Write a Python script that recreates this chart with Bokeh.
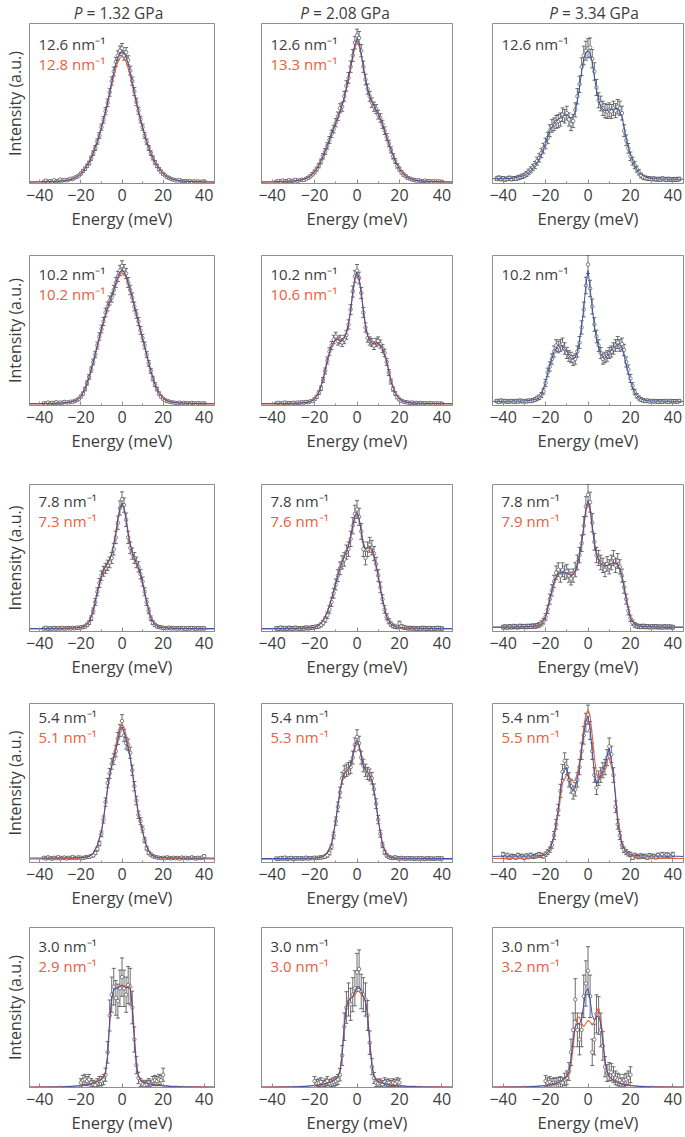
import numpy as np
from bokeh.plotting import figure
from bokeh.layouts import column, row
from bokeh.models import Range1d, FixedTicker, Label, ColumnDataSource, Whisker, TeeHead
from bokeh.embed import file_html
from bokeh.resources import INLINE

# ---------------- data ----------------
PRESSURES = ["1.32", "2.08", "3.34"]
Q_BLACK = [["12.6", "12.6", "12.6"], ["10.2", "10.2", "10.2"], ["7.8", "7.8", "7.8"],
           ["5.4", "5.4", "5.4"], ["3.0", "3.0", "3.0"]]
Q_RED = [["12.8", "13.3", None], ["10.2", "10.6", None], ["7.3", "7.6", "7.9"],
         ["5.1", "5.3", "5.5"], ["2.9", "3.0", "3.2"]]
TICKS = [-40, -20, 0, 20, 40]
TICK_LABELS = ["\u221240", "\u221220", "0", "20", "40"]
MINOR_TICKS = [-30, -10, 10, 30]

# energy of first data point (meV), data step 1 meV
DATA_START = [[-38, -38, -43], [-38, -38, -43], [-38, -38, -40], [-38, -38, -40], [-20, -20, -20]]
# error-bar half-length at the peak (fraction of frame height)
ERR_PEAK = [[0.03, 0.04, 0.06], [0.035, 0.04, 0.06], [0.05, 0.06, 0.07],
            [0.04, 0.045, 0.06], [0.12, 0.12, 0.15]]

FIT_E = [-45, -40, -35, -30, -27, -24, -22, -20, -18, -16, -14, -12, -10, -9, -8, -7, -6, -5, -4, -3, -2, -1,
         0, 1, 2, 3, 4, 5, 6, 7, 8, 9, 10, 12, 14, 16, 18, 20, 22, 24, 27, 30, 35, 40, 45]

# ---- row 1 (12.6 nm^-1) ----
I_1_1 = [0.012, 0.018, 0.010, 0.015, 0.012, 0.020, 0.014, 0.016, 0.025, 0.018, 0.022, 0.020,
         0.024, 0.030, 0.028, 0.036, 0.042, 0.050, 0.062,
         0.078, 0.092, 0.110, 0.128, 0.158, 0.190, 0.222, 0.262, 0.300,
         0.352, 0.398, 0.452, 0.505, 0.570, 0.640, 0.700, 0.760, 0.800, 0.830,
         0.845,
         0.800, 0.820, 0.770, 0.705, 0.640, 0.575, 0.510, 0.455, 0.400, 0.352,
         0.300, 0.262, 0.222, 0.190, 0.160, 0.132, 0.110, 0.090, 0.075,
         0.060, 0.050, 0.040, 0.034, 0.028, 0.024, 0.020,
         0.018, 0.022, 0.015, 0.014, 0.016, 0.012, 0.015, 0.010, 0.014, 0.012, 0.013, 0.011, 0.012, 0.014]
I_1_2 = [0.012, 0.015, 0.011, 0.018, 0.014, 0.016, 0.020, 0.015, 0.018, 0.022, 0.017, 0.020,
         0.024, 0.022, 0.030, 0.036, 0.045, 0.058, 0.072,
         0.090, 0.112, 0.138, 0.170, 0.200, 0.235, 0.272, 0.310, 0.340,
         0.380, 0.420, 0.470, 0.480, 0.545, 0.610, 0.660, 0.730, 0.800, 0.880,
         0.925,
         0.910, 0.830, 0.730, 0.650, 0.590, 0.545, 0.505, 0.480, 0.465, 0.430,
         0.410, 0.370, 0.330, 0.290, 0.250, 0.210, 0.170, 0.140, 0.110,
         0.090, 0.070, 0.055, 0.045, 0.035, 0.030, 0.025,
         0.022, 0.018, 0.020, 0.016, 0.015, 0.018, 0.013, 0.015, 0.012, 0.014, 0.011, 0.013, 0.012, 0.010]
I_1_3 = [0.030, 0.035, 0.028, 0.032, 0.026, 0.030, 0.034, 0.028, 0.032, 0.030, 0.036, 0.040, 0.045,
         0.050, 0.060, 0.072, 0.085, 0.100, 0.115, 0.140, 0.160, 0.190, 0.220,
         0.250, 0.285, 0.330, 0.360, 0.370, 0.385, 0.390, 0.400, 0.430, 0.420,
         0.440, 0.400, 0.370, 0.390, 0.460, 0.545, 0.620, 0.730, 0.800, 0.830,
         0.845,
         0.850, 0.780, 0.700, 0.600, 0.520, 0.500, 0.470, 0.455, 0.450, 0.460,
         0.450, 0.470, 0.455, 0.480, 0.470, 0.440, 0.330, 0.270, 0.220, 0.170,
         0.140, 0.115, 0.090, 0.070, 0.050, 0.040, 0.035, 0.032, 0.030, 0.028,
         0.030, 0.026, 0.028, 0.025, 0.030, 0.027, 0.025, 0.028, 0.026, 0.024, 0.027, 0.025, 0.028]
FB_1_1 = [0.01, 0.011, 0.012, 0.015, 0.019, 0.028, 0.04, 0.06, 0.092, 0.13, 0.19, 0.262, 0.352,
          0.40, 0.452, 0.51, 0.57, 0.635, 0.695, 0.75, 0.79, 0.815, 0.825, 0.815, 0.79, 0.75, 0.695,
          0.635, 0.57, 0.51, 0.452, 0.40,
          0.352, 0.262, 0.19, 0.13, 0.092, 0.06, 0.04, 0.028, 0.019, 0.015, 0.012, 0.011, 0.01]
FR_1_1 = [0.008, 0.009, 0.011, 0.015, 0.02, 0.03, 0.043, 0.063, 0.095, 0.135, 0.195, 0.265, 0.35,
          0.395, 0.445, 0.5, 0.555, 0.615, 0.67, 0.72, 0.76, 0.785, 0.795, 0.785, 0.76, 0.72, 0.67,
          0.615, 0.555, 0.5, 0.445, 0.395,
          0.35, 0.265, 0.195, 0.135, 0.095, 0.063, 0.043, 0.03, 0.02, 0.015, 0.011, 0.009, 0.008]
FB_1_2 = [0.01, 0.011, 0.013, 0.016, 0.02, 0.03, 0.045, 0.072, 0.112, 0.17, 0.235, 0.31, 0.38,
          0.415, 0.45, 0.49, 0.54, 0.6, 0.66, 0.73, 0.8, 0.87, 0.905, 0.88, 0.81, 0.73, 0.655,
          0.59, 0.545, 0.51, 0.485, 0.46,
          0.435, 0.37, 0.29, 0.21, 0.14, 0.09, 0.055, 0.035, 0.022, 0.016, 0.013, 0.011, 0.01]
FR_1_2 = [0.008, 0.009, 0.011, 0.015, 0.02, 0.032, 0.048, 0.075, 0.115, 0.172, 0.24, 0.312, 0.378,
          0.412, 0.448, 0.487, 0.535, 0.59, 0.65, 0.72, 0.79, 0.85, 0.88, 0.86, 0.8, 0.725, 0.65,
          0.59, 0.545, 0.51, 0.485, 0.46,
          0.435, 0.372, 0.295, 0.215, 0.145, 0.095, 0.06, 0.038, 0.022, 0.015, 0.011, 0.009, 0.008]
FB_1_3 = [0.03, 0.03, 0.033, 0.05, 0.08, 0.13, 0.18, 0.25, 0.33, 0.375, 0.40, 0.42, 0.43,
          0.42, 0.41, 0.42, 0.45, 0.52, 0.6, 0.7, 0.78, 0.82, 0.83, 0.815, 0.76, 0.67, 0.585,
          0.52, 0.485, 0.465, 0.455, 0.455,
          0.46, 0.465, 0.47, 0.42, 0.28, 0.18, 0.11, 0.068, 0.04, 0.03, 0.028, 0.027, 0.027]

# ---- row 2 (10.2 nm^-1) ----
I_2_1 = [0.015, 0.012, 0.020, 0.014, 0.018, 0.016, 0.022, 0.015, 0.020, 0.018, 0.024, 0.021,
         0.020, 0.026, 0.024, 0.030, 0.036, 0.045, 0.060,
         0.080, 0.110, 0.150, 0.190, 0.240, 0.290, 0.340, 0.400, 0.460,
         0.510, 0.560, 0.620, 0.660, 0.700, 0.720, 0.770, 0.820, 0.860, 0.900,
         0.930,
         0.905, 0.880, 0.820, 0.770, 0.720, 0.660, 0.610, 0.560, 0.500, 0.450,
         0.400, 0.340, 0.280, 0.230, 0.180, 0.140, 0.110, 0.080, 0.060,
         0.045, 0.035, 0.030, 0.026, 0.022, 0.020, 0.018,
         0.016, 0.020, 0.015, 0.018, 0.014, 0.016, 0.013, 0.017, 0.015, 0.012, 0.016, 0.014, 0.013, 0.015]
I_2_2 = [0.014, 0.018, 0.012, 0.016, 0.020, 0.015, 0.017, 0.014, 0.019, 0.016, 0.020, 0.018,
         0.022, 0.019, 0.024, 0.022, 0.028, 0.030, 0.042,
         0.058, 0.085, 0.115, 0.170, 0.230, 0.300, 0.360, 0.400, 0.440,
         0.460, 0.430, 0.440, 0.420, 0.440, 0.470, 0.540, 0.640, 0.760, 0.860,
         0.900,
         0.850, 0.750, 0.620, 0.520, 0.450, 0.430, 0.420, 0.400, 0.420, 0.430,
         0.410, 0.380, 0.350, 0.290, 0.220, 0.160, 0.110, 0.080, 0.055,
         0.040, 0.032, 0.025, 0.022, 0.020, 0.018, 0.020,
         0.016, 0.018, 0.015, 0.017, 0.014, 0.016, 0.013, 0.015, 0.014, 0.012, 0.015, 0.013, 0.014, 0.012]
I_2_3 = [0.030, 0.025, 0.032, 0.028, 0.030, 0.026, 0.028, 0.030, 0.025, 0.030, 0.027, 0.032, 0.028,
         0.030, 0.028, 0.032, 0.030, 0.035, 0.040, 0.048, 0.055, 0.070, 0.095,
         0.150, 0.220, 0.260, 0.310, 0.360, 0.400, 0.390, 0.400, 0.410, 0.380,
         0.350, 0.330, 0.320, 0.300, 0.310, 0.360, 0.420, 0.520, 0.640, 0.800,
         0.940,
         0.780, 0.660, 0.540, 0.460, 0.400, 0.350, 0.310, 0.320, 0.330, 0.350,
         0.360, 0.380, 0.400, 0.420, 0.400, 0.410, 0.370, 0.290, 0.240, 0.180,
         0.130, 0.090, 0.065, 0.050, 0.040, 0.035, 0.030, 0.032, 0.028, 0.030,
         0.027, 0.030, 0.025, 0.029, 0.026, 0.030, 0.028, 0.025, 0.030, 0.027, 0.029, 0.026, 0.030]
FB_2_1 = [0.012, 0.013, 0.014, 0.016, 0.019, 0.026, 0.034, 0.058, 0.11, 0.19, 0.29, 0.40, 0.51,
          0.56, 0.61, 0.655, 0.695, 0.73, 0.77, 0.82, 0.86, 0.89, 0.905, 0.895, 0.865, 0.82, 0.77,
          0.72, 0.665, 0.61, 0.555, 0.50,
          0.45, 0.34, 0.23, 0.14, 0.08, 0.046, 0.03, 0.022, 0.018, 0.016, 0.014, 0.013, 0.012]
FR_2_1 = [0.01, 0.011, 0.013, 0.016, 0.02, 0.028, 0.038, 0.062, 0.112, 0.19, 0.288, 0.395, 0.5,
          0.55, 0.6, 0.645, 0.69, 0.73, 0.77, 0.81, 0.85, 0.875, 0.885, 0.875, 0.85, 0.81, 0.765,
          0.715, 0.66, 0.605, 0.55, 0.495,
          0.445, 0.338, 0.232, 0.145, 0.085, 0.05, 0.033, 0.024, 0.019, 0.016, 0.013, 0.011, 0.01]
FB_2_2 = [0.012, 0.013, 0.014, 0.015, 0.017, 0.02, 0.026, 0.04, 0.085, 0.17, 0.30, 0.40, 0.445,
          0.44, 0.43, 0.43, 0.45, 0.48, 0.54, 0.63, 0.75, 0.85, 0.89, 0.85, 0.75, 0.63, 0.53,
          0.465, 0.43, 0.415, 0.41, 0.415,
          0.42, 0.38, 0.29, 0.16, 0.08, 0.042, 0.026, 0.02, 0.017, 0.015, 0.014, 0.013, 0.012]
FR_2_2 = [0.01, 0.011, 0.012, 0.014, 0.016, 0.02, 0.028, 0.045, 0.09, 0.175, 0.295, 0.39, 0.44,
          0.445, 0.44, 0.44, 0.455, 0.49, 0.55, 0.64, 0.75, 0.84, 0.87, 0.84, 0.75, 0.64, 0.54,
          0.47, 0.435, 0.42, 0.415, 0.42,
          0.42, 0.385, 0.3, 0.17, 0.088, 0.045, 0.028, 0.02, 0.016, 0.014, 0.012, 0.011, 0.01]
FB_2_3 = [0.028, 0.028, 0.029, 0.03, 0.034, 0.045, 0.065, 0.16, 0.27, 0.36, 0.395, 0.40, 0.36,
          0.33, 0.315, 0.31, 0.32, 0.36, 0.43, 0.53, 0.65, 0.80, 0.90, 0.78, 0.65, 0.53, 0.45,
          0.39, 0.345, 0.32, 0.315, 0.33,
          0.35, 0.385, 0.41, 0.39, 0.27, 0.16, 0.085, 0.05, 0.033, 0.03, 0.029, 0.028, 0.028]

# ---- row 3 (7.8 nm^-1) ----
I_3_1 = [0.020, 0.025, 0.018, 0.022, 0.020, 0.024, 0.019, 0.023, 0.021, 0.025, 0.020, 0.022,
         0.024, 0.021, 0.025, 0.022, 0.026, 0.024, 0.028,
         0.030, 0.034, 0.045, 0.060, 0.090, 0.140, 0.200, 0.270, 0.330,
         0.380, 0.410, 0.430, 0.450, 0.470, 0.500, 0.560, 0.640, 0.740, 0.840,
         0.900,
         0.860, 0.760, 0.640, 0.570, 0.530, 0.500, 0.470, 0.440, 0.390, 0.340,
         0.270, 0.200, 0.140, 0.090, 0.060, 0.045, 0.035, 0.030, 0.028,
         0.025, 0.024, 0.022, 0.026, 0.021, 0.024, 0.022,
         0.020, 0.024, 0.021, 0.023, 0.019, 0.022, 0.020, 0.024, 0.021, 0.019, 0.023, 0.020, 0.022, 0.021]
I_3_2 = [0.022, 0.018, 0.025, 0.020, 0.023, 0.019, 0.024, 0.021, 0.020, 0.025, 0.022, 0.019,
         0.023, 0.021, 0.026, 0.022, 0.025, 0.028, 0.030,
         0.032, 0.036, 0.045, 0.060, 0.080, 0.110, 0.150, 0.200, 0.260,
         0.320, 0.380, 0.430, 0.470, 0.490, 0.540, 0.560, 0.630, 0.720, 0.800,
         0.830,
         0.780, 0.680, 0.560, 0.500, 0.560, 0.590, 0.570, 0.530, 0.460, 0.380,
         0.300, 0.220, 0.150, 0.100, 0.070, 0.050, 0.038, 0.032, 0.030,
         0.055, 0.035, 0.028, 0.025, 0.022, 0.024, 0.021,
         0.023, 0.020, 0.022, 0.019, 0.024, 0.021, 0.020, 0.023, 0.019, 0.022, 0.020, 0.024, 0.021, 0.020]
I_3_3 = [0.030, 0.032, 0.028, 0.034, 0.030, 0.035, 0.032, 0.030, 0.036, 0.033,
         0.035, 0.032, 0.036, 0.034, 0.038, 0.036, 0.040, 0.045, 0.055, 0.070,
         0.100, 0.150, 0.220, 0.280, 0.340, 0.400, 0.420, 0.380, 0.420, 0.400,
         0.410, 0.380, 0.360, 0.380, 0.420, 0.470, 0.520, 0.600, 0.720, 0.850,
         0.930,
         0.880, 0.740, 0.610, 0.520, 0.500, 0.470, 0.450, 0.420, 0.460, 0.440,
         0.470, 0.500, 0.450, 0.480, 0.440, 0.380, 0.300, 0.220, 0.140, 0.090,
         0.060, 0.045, 0.038, 0.035, 0.033, 0.036, 0.032, 0.034, 0.030, 0.033,
         0.031, 0.034, 0.030, 0.032, 0.029, 0.033, 0.030, 0.032, 0.031, 0.029]
FB_3_1 = [0.02, 0.02, 0.021, 0.022, 0.023, 0.024, 0.025, 0.027, 0.035, 0.06, 0.14, 0.27, 0.38,
          0.42, 0.445, 0.465, 0.49, 0.53, 0.59, 0.67, 0.76, 0.84, 0.875, 0.84, 0.76, 0.665, 0.59,
          0.535, 0.5, 0.47, 0.435, 0.39,
          0.335, 0.2, 0.09, 0.045, 0.03, 0.026, 0.024, 0.023, 0.022, 0.021, 0.021, 0.02, 0.02]
FR_3_1 = [0.018, 0.018, 0.019, 0.02, 0.021, 0.023, 0.025, 0.03, 0.04, 0.07, 0.15, 0.27, 0.37,
          0.41, 0.44, 0.46, 0.49, 0.535, 0.6, 0.68, 0.77, 0.84, 0.87, 0.84, 0.77, 0.68, 0.6,
          0.535, 0.49, 0.46, 0.43, 0.385,
          0.33, 0.205, 0.1, 0.05, 0.033, 0.027, 0.024, 0.022, 0.021, 0.02, 0.019, 0.018, 0.018]
FB_3_2 = [0.02, 0.02, 0.021, 0.022, 0.023, 0.024, 0.025, 0.027, 0.04, 0.07, 0.13, 0.22, 0.33,
          0.38, 0.43, 0.47, 0.51, 0.54, 0.58, 0.64, 0.72, 0.79, 0.81, 0.77, 0.68, 0.59, 0.56,
          0.57, 0.58, 0.565, 0.52, 0.455,
          0.38, 0.22, 0.1, 0.05, 0.032, 0.027, 0.025, 0.024, 0.023, 0.022, 0.021, 0.02, 0.02]
FR_3_2 = [0.018, 0.018, 0.019, 0.02, 0.021, 0.023, 0.025, 0.03, 0.043, 0.075, 0.135, 0.225, 0.33,
          0.385, 0.435, 0.48, 0.515, 0.55, 0.59, 0.65, 0.72, 0.78, 0.80, 0.765, 0.685, 0.605, 0.565,
          0.565, 0.57, 0.555, 0.51, 0.445,
          0.37, 0.215, 0.1, 0.05, 0.032, 0.026, 0.023, 0.022, 0.021, 0.02, 0.019, 0.018, 0.018]
FB_3_3 = [0.03, 0.03, 0.031, 0.033, 0.035, 0.038, 0.048, 0.1, 0.22, 0.34, 0.40, 0.40, 0.40,
          0.39, 0.38, 0.385, 0.41, 0.46, 0.52, 0.6, 0.72, 0.84, 0.89, 0.84, 0.72, 0.6, 0.525,
          0.49, 0.465, 0.45, 0.445, 0.45,
          0.455, 0.47, 0.46, 0.38, 0.22, 0.09, 0.045, 0.036, 0.034, 0.032, 0.031, 0.03, 0.03]
FR_3_3 = [0.028, 0.028, 0.029, 0.031, 0.034, 0.04, 0.052, 0.105, 0.22, 0.33, 0.39, 0.40, 0.395,
          0.39, 0.385, 0.39, 0.41, 0.455, 0.52, 0.6, 0.71, 0.82, 0.87, 0.82, 0.71, 0.605, 0.53,
          0.49, 0.465, 0.45, 0.445, 0.448,
          0.455, 0.465, 0.455, 0.38, 0.23, 0.1, 0.05, 0.037, 0.033, 0.031, 0.029, 0.028, 0.028]

# ---- row 4 (5.4 nm^-1) ----
I_4_1 = [0.030, 0.025, 0.032, 0.028, 0.024, 0.030, 0.027, 0.033, 0.026, 0.029, 0.031, 0.025,
         0.030, 0.028, 0.034, 0.027, 0.030, 0.032, 0.030,
         0.028, 0.032, 0.034, 0.036, 0.040, 0.045, 0.060, 0.085, 0.120,
         0.180, 0.270, 0.380, 0.500, 0.560, 0.620, 0.650, 0.700, 0.780, 0.830,
         0.890,
         0.800, 0.750, 0.740, 0.690, 0.580, 0.480, 0.390, 0.300, 0.260, 0.210,
         0.140, 0.090, 0.060, 0.050, 0.040, 0.035, 0.032, 0.030, 0.028,
         0.030, 0.027, 0.032, 0.028, 0.026, 0.030, 0.027,
         0.029, 0.025, 0.031, 0.027, 0.030, 0.026, 0.028, 0.032, 0.027, 0.025, 0.030, 0.028, 0.031, 0.040]
I_4_2 = [0.025, 0.022, 0.028, 0.024, 0.030, 0.023, 0.026, 0.029, 0.022, 0.027, 0.025, 0.028,
         0.024, 0.026, 0.030, 0.025, 0.028, 0.027, 0.030,
         0.028, 0.030, 0.032, 0.034, 0.038, 0.045, 0.060, 0.100, 0.170,
         0.260, 0.350, 0.440, 0.530, 0.570, 0.580, 0.590, 0.600, 0.660, 0.740,
         0.790,
         0.750, 0.660, 0.610, 0.580, 0.560, 0.550, 0.530, 0.460, 0.370, 0.270,
         0.180, 0.110, 0.065, 0.045, 0.035, 0.030, 0.028, 0.032, 0.027,
         0.025, 0.029, 0.026, 0.024, 0.028, 0.025, 0.027,
         0.023, 0.026, 0.024, 0.028, 0.025, 0.022, 0.027, 0.024, 0.026, 0.023, 0.025, 0.027, 0.024, 0.026]
I_4_3 = [0.050, 0.035, 0.045, 0.030, 0.040, 0.038, 0.032, 0.045, 0.036, 0.040,
         0.030, 0.042, 0.035, 0.046, 0.038, 0.040, 0.044, 0.050, 0.045, 0.040,
         0.052, 0.065, 0.080, 0.110, 0.170, 0.240, 0.330, 0.450, 0.570, 0.640,
         0.600, 0.520, 0.480, 0.440, 0.460, 0.520, 0.600, 0.700, 0.800, 0.880,
         0.930,
         0.830, 0.700, 0.550, 0.470, 0.530, 0.550, 0.580, 0.600, 0.660, 0.730,
         0.680, 0.550, 0.350, 0.240, 0.170, 0.110, 0.080, 0.065, 0.055, 0.050,
         0.030, 0.045, 0.040, 0.035, 0.042, 0.038, 0.040, 0.030, 0.044, 0.036,
         0.040, 0.034, 0.046, 0.038, 0.050, 0.040, 0.048, 0.045, 0.038, 0.050]
FB_4_1 = [0.028, 0.028, 0.028, 0.029, 0.029, 0.03, 0.03, 0.031, 0.033, 0.038, 0.055, 0.11, 0.19,
          0.27, 0.37, 0.47, 0.55, 0.61, 0.66, 0.71, 0.77, 0.83, 0.85, 0.82, 0.77, 0.72, 0.66,
          0.58, 0.48, 0.39, 0.31, 0.25,
          0.2, 0.1, 0.05, 0.035, 0.031, 0.03, 0.03, 0.029, 0.029, 0.028, 0.028, 0.028, 0.028]
FR_4_1 = [0.022, 0.022, 0.023, 0.024, 0.025, 0.026, 0.027, 0.029, 0.032, 0.04, 0.058, 0.11, 0.2,
          0.28, 0.37, 0.46, 0.54, 0.61, 0.68, 0.74, 0.8, 0.85, 0.87, 0.85, 0.8, 0.74, 0.66,
          0.57, 0.47, 0.38, 0.3, 0.24,
          0.19, 0.1, 0.052, 0.036, 0.03, 0.028, 0.027, 0.026, 0.025, 0.024, 0.023, 0.022, 0.022]
FB_4_2 = [0.025, 0.025, 0.025, 0.026, 0.026, 0.027, 0.027, 0.028, 0.03, 0.036, 0.06, 0.11, 0.26,
          0.36, 0.45, 0.52, 0.565, 0.58, 0.59, 0.61, 0.67, 0.74, 0.77, 0.74, 0.67, 0.61, 0.58,
          0.565, 0.55, 0.52, 0.455, 0.365,
          0.265, 0.11, 0.045, 0.03, 0.028, 0.027, 0.027, 0.026, 0.026, 0.026, 0.025, 0.025, 0.025]
FR_4_2 = [0.02, 0.02, 0.021, 0.022, 0.023, 0.024, 0.025, 0.027, 0.031, 0.04, 0.065, 0.12, 0.265,
          0.36, 0.445, 0.51, 0.555, 0.575, 0.59, 0.615, 0.665, 0.725, 0.755, 0.73, 0.67, 0.615, 0.585,
          0.565, 0.545, 0.51, 0.45, 0.365,
          0.27, 0.12, 0.05, 0.032, 0.027, 0.025, 0.024, 0.023, 0.022, 0.022, 0.021, 0.02, 0.02]
FB_4_3 = [0.038, 0.04, 0.04, 0.04, 0.041, 0.042, 0.045, 0.05, 0.08, 0.17, 0.34, 0.56, 0.6,
          0.52, 0.47, 0.45, 0.47, 0.53, 0.6, 0.71, 0.81, 0.89, 0.92, 0.84, 0.7, 0.56, 0.49,
          0.52, 0.55, 0.58, 0.61, 0.67,
          0.72, 0.56, 0.25, 0.11, 0.065, 0.05, 0.045, 0.042, 0.041, 0.04, 0.04, 0.04, 0.038]
FR_4_3 = [0.025, 0.026, 0.027, 0.028, 0.03, 0.034, 0.04, 0.05, 0.08, 0.16, 0.31, 0.5, 0.55,
          0.54, 0.52, 0.51, 0.52, 0.56, 0.63, 0.73, 0.85, 0.93, 0.96, 0.92, 0.8, 0.66, 0.56,
          0.53, 0.54, 0.56, 0.6, 0.64,
          0.66, 0.55, 0.29, 0.12, 0.065, 0.045, 0.038, 0.034, 0.03, 0.028, 0.027, 0.026, 0.025]

# ---- row 5 (3.0 nm^-1) ----
I_5_1 = [0.030, 0.045, 0.050, 0.040, 0.050, 0.030, 0.020, 0.015, 0.030, 0.040,
         0.040, 0.050, 0.080, 0.220, 0.450, 0.580, 0.630, 0.560, 0.540, 0.620,
         0.690,
         0.620, 0.580, 0.640, 0.630, 0.500, 0.300, 0.140, 0.060, 0.030, 0.020,
         0.015, 0.020, 0.030, 0.020, 0.040, 0.045, 0.040, 0.050, 0.045, 0.080]
I_5_2 = [0.040, 0.025, 0.030, 0.035, 0.020, 0.030, 0.040, 0.025, 0.030, 0.035,
         0.040, 0.050, 0.080, 0.200, 0.380, 0.500, 0.550, 0.520, 0.580, 0.620,
         0.720,
         0.740, 0.600, 0.580, 0.550, 0.450, 0.280, 0.130, 0.060, 0.030, 0.025,
         0.030, 0.020, 0.035, 0.025, 0.030, 0.020, 0.030, 0.025, 0.035, 0.030]
I_5_3 = [0.040, 0.030, 0.035, 0.025, 0.030, 0.028, 0.032, 0.035, 0.030, 0.050,
         0.060, 0.100, 0.220, 0.360, 0.550, 0.360, 0.300, 0.360, 0.570, 0.650,
         0.730,
         0.570, 0.220, 0.300, 0.460, 0.450, 0.360, 0.260, 0.130, 0.090, 0.100,
         0.095, 0.080, 0.060, 0.050, 0.045, 0.030, 0.045, 0.050, 0.060, 0.080]
FB_5_1 = [0.002, 0.002, 0.003, 0.004, 0.005, 0.007, 0.009, 0.012, 0.015, 0.02, 0.026, 0.035, 0.05,
          0.06, 0.09, 0.2, 0.42, 0.56, 0.61, 0.62, 0.62, 0.63, 0.64, 0.63, 0.625, 0.625, 0.62,
          0.5, 0.3, 0.14, 0.07, 0.045,
          0.035, 0.026, 0.02, 0.015, 0.012, 0.01, 0.008, 0.006, 0.005, 0.004, 0.003, 0.002, 0.002]
FR_5_1 = [0.003, 0.004, 0.005, 0.006, 0.007, 0.009, 0.011, 0.014, 0.018, 0.023, 0.03, 0.04, 0.055,
          0.068, 0.1, 0.2, 0.4, 0.55, 0.61, 0.625, 0.63, 0.635, 0.64, 0.635, 0.63, 0.63, 0.63,
          0.53, 0.33, 0.15, 0.075, 0.05,
          0.04, 0.03, 0.023, 0.018, 0.014, 0.012, 0.01, 0.008, 0.007, 0.005, 0.004, 0.004, 0.003]
FB_5_2 = [0.002, 0.002, 0.003, 0.004, 0.005, 0.007, 0.009, 0.012, 0.015, 0.02, 0.026, 0.035, 0.05,
          0.065, 0.1, 0.2, 0.38, 0.5, 0.545, 0.555, 0.57, 0.6, 0.63, 0.63, 0.6, 0.57, 0.54,
          0.45, 0.28, 0.14, 0.07, 0.045,
          0.035, 0.026, 0.02, 0.015, 0.012, 0.01, 0.008, 0.006, 0.005, 0.004, 0.003, 0.002, 0.002]
FR_5_2 = [0.003, 0.004, 0.005, 0.006, 0.007, 0.009, 0.011, 0.014, 0.018, 0.023, 0.03, 0.04, 0.055,
          0.07, 0.11, 0.22, 0.4, 0.51, 0.55, 0.56, 0.565, 0.58, 0.6, 0.6, 0.585, 0.565, 0.545,
          0.46, 0.29, 0.15, 0.075, 0.05,
          0.04, 0.03, 0.023, 0.018, 0.014, 0.012, 0.01, 0.008, 0.007, 0.005, 0.004, 0.004, 0.003]
FB_5_3 = [0.002, 0.002, 0.003, 0.004, 0.005, 0.007, 0.009, 0.012, 0.016, 0.022, 0.03, 0.045, 0.07,
          0.1, 0.18, 0.3, 0.38, 0.4, 0.4, 0.43, 0.52, 0.6, 0.62, 0.55, 0.45, 0.42, 0.44,
          0.45, 0.4, 0.29, 0.17, 0.1,
          0.07, 0.045, 0.03, 0.022, 0.016, 0.012, 0.009, 0.007, 0.005, 0.004, 0.003, 0.002, 0.002]
FR_5_3 = [0.003, 0.004, 0.005, 0.006, 0.007, 0.009, 0.011, 0.014, 0.018, 0.024, 0.032, 0.045, 0.065,
          0.085, 0.14, 0.25, 0.38, 0.44, 0.44, 0.4, 0.38, 0.4, 0.42, 0.41, 0.39, 0.41, 0.47,
          0.5, 0.44, 0.3, 0.16, 0.09,
          0.065, 0.045, 0.032, 0.024, 0.018, 0.014, 0.011, 0.009, 0.007, 0.006, 0.005, 0.004, 0.003]

DATA = [[I_1_1, I_1_2, I_1_3], [I_2_1, I_2_2, I_2_3], [I_3_1, I_3_2, I_3_3],
        [I_4_1, I_4_2, I_4_3], [I_5_1, I_5_2, I_5_3]]
FIT_BLUE = [[FB_1_1, FB_1_2, FB_1_3], [FB_2_1, FB_2_2, FB_2_3], [FB_3_1, FB_3_2, FB_3_3],
            [FB_4_1, FB_4_2, FB_4_3], [FB_5_1, FB_5_2, FB_5_3]]
FIT_RED = [[FR_1_1, FR_1_2, None], [FR_2_1, FR_2_2, None], [FR_3_1, FR_3_2, FR_3_3],
           [FR_4_1, FR_4_2, FR_4_3], [FR_5_1, FR_5_2, FR_5_3]]

for rr in range(5):
    for cc in range(3):
        assert len(FIT_BLUE[rr][cc]) == len(FIT_E), (rr, cc, "blue", len(FIT_BLUE[rr][cc]))
        if FIT_RED[rr][cc] is not None:
            assert len(FIT_RED[rr][cc]) == len(FIT_E), (rr, cc, "red", len(FIT_RED[rr][cc]))

# ---------------- layout / style ----------------
FONT = "Open Sans"
TXT = "#3d3d3d"
RED = "#e8603c"
BLUE = "#4052a6"
FRAME_C = "#8e8e8e"

COL_FRAME_W = [190, 191, 191]
COL_L = [24, 24, 20]
COL_R = [23, 20, 1]
FRAME_H = [161, 150, 148, 160, 161]
ROW_T = [1, 23, 29, 23, 16]
ROW_B = [48, 50, 48, 48, 48]
LBL_OFF = [-20, -18, -16, -13, -18]
TITLE_H = 22
TITLE_DX = [-33, -44, -26]


def title_strip(c):
    w = COL_L[c] + COL_FRAME_W[c] + COL_R[c]
    p = figure(width=w, height=TITLE_H, output_backend="svg", toolbar_location=None,
               x_range=Range1d(-45, 45), y_range=Range1d(0, TITLE_H),
               x_axis_location=None, y_axis_location=None,
               min_border_left=COL_L[c], min_border_right=COL_R[c],
               min_border_top=0, min_border_bottom=0)
    p.grid.visible = False
    p.outline_line_color = None
    p.add_layout(Label(x=0, y=TITLE_H - 12, x_offset=TITLE_DX[c], text="= " + PRESSURES[c] + " GPa",
                       text_font=FONT, text_font_size="15.5px", text_color=TXT,
                       text_baseline="middle", text_align="left"))
    p.add_layout(Label(x=0, y=TITLE_H - 12, x_offset=TITLE_DX[c] - 4, text="P",
                       text_font=FONT, text_font_size="15.5px", text_color=TXT,
                       text_font_style="italic", text_baseline="middle", text_align="right"))
    return p


def make_panel(r, c):
    w = COL_L[c] + COL_FRAME_W[c] + COL_R[c]
    h = ROW_T[r] + FRAME_H[r] + ROW_B[r]
    p = figure(width=w, height=h, output_backend="svg", toolbar_location=None,
               x_range=Range1d(-45, 45), y_range=Range1d(0, 1),
               y_axis_location="left" if c == 0 else None,
               min_border_left=COL_L[c], min_border_right=COL_R[c],
               min_border_top=ROW_T[r], min_border_bottom=ROW_B[r])
    p.grid.visible = False
    p.outline_line_color = FRAME_C
    p.outline_line_width = 1
    p.background_fill_color = "white"
    p.border_fill_color = "white"

    ax = p.xaxis[0]
    ax.ticker = FixedTicker(ticks=TICKS, minor_ticks=MINOR_TICKS)
    ax.major_label_overrides = {t: l for t, l in zip(TICKS, TICK_LABELS)}
    ax.major_tick_in = 4
    ax.major_tick_out = 0
    ax.minor_tick_in = 2
    ax.minor_tick_out = 0
    ax.axis_line_color = FRAME_C
    ax.major_tick_line_color = FRAME_C
    ax.minor_tick_line_color = FRAME_C
    ax.major_label_text_font = FONT
    ax.major_label_text_font_size = "16px"
    ax.major_label_text_color = TXT
    ax.major_label_standoff = 5
    ax.axis_label = "Energy (meV)"
    ax.axis_label_text_font = FONT
    ax.axis_label_text_font_size = "16.5px"
    ax.axis_label_text_font_style = "normal"
    ax.axis_label_text_color = TXT
    ax.axis_label_standoff = 3

    if c == 0:
        ya = p.yaxis[0]
        ya.ticker = FixedTicker(ticks=[])
        ya.major_tick_in = 0
        ya.major_tick_out = 0
        ya.minor_tick_in = 0
        ya.minor_tick_out = 0
        ya.axis_line_color = None
        ya.major_label_standoff = 0
        ya.axis_label = "Intensity (a.u.)"
        ya.axis_label_text_font = FONT
        ya.axis_label_text_font_size = "16px"
        ya.axis_label_text_font_style = "normal"
        ya.axis_label_text_color = TXT
        ya.axis_label_standoff = 4

    y = np.array(DATA[r][c], dtype=float)
    e = DATA_START[r][c] + np.arange(len(y))
    err = ERR_PEAK[r][c] * np.sqrt(np.maximum(y, 0.03) / y.max())
    src = ColumnDataSource(dict(x=e, y=y, lo=y - err, hi=y + err))
    p.add_layout(Whisker(source=src, base="x", lower="lo", upper="hi",
                         line_color="#4a4a4a", line_width=0.8,
                         lower_head=TeeHead(size=4, line_color="#4a4a4a", line_width=0.8),
                         upper_head=TeeHead(size=4, line_color="#4a4a4a", line_width=0.8)))
    p.scatter("x", "y", source=src, marker="circle", size=3.5,
              fill_color="white", line_color="#555555", line_width=0.7)

    if FIT_RED[r][c] is not None:
        p.line(FIT_E, FIT_RED[r][c], line_color=RED, line_width=1.1)
    p.line(FIT_E, FIT_BLUE[r][c], line_color=BLUE, line_width=1.0)

    p.add_layout(Label(x=-45, y=1, x_offset=9, y_offset=LBL_OFF[r], text=Q_BLACK[r][c] + " nm\u207b\u00b9",
                       text_font=FONT, text_font_size="15px", text_color=TXT, text_baseline="middle"))
    if Q_RED[r][c] is not None:
        p.add_layout(Label(x=-45, y=1, x_offset=9, y_offset=LBL_OFF[r] - 20,
                           text=Q_RED[r][c] + " nm\u207b\u00b9",
                           text_font=FONT, text_font_size="15px", text_color=RED, text_baseline="middle"))
    return p


rows = [row(*[title_strip(c) for c in range(3)])]
for r in range(5):
    rows.append(row(*[make_panel(r, c) for c in range(3)]))
layout = column(*rows)

open("out.html", "w").write(file_html(layout, INLINE))
